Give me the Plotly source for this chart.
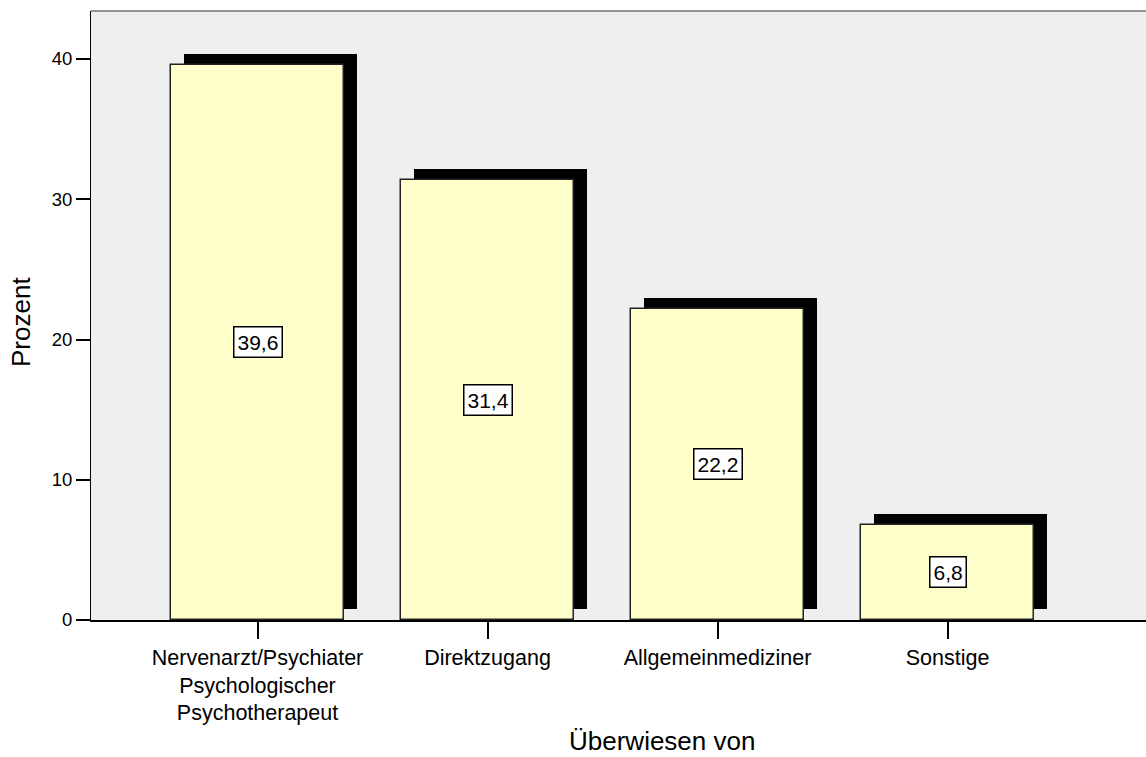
import plotly.graph_objects as go

categories = ["Nervenarzt/Psychiater<br>Psychologischer<br>Psychotherapeut",
              "Direktzugang", "Allgemeinmediziner", "Sonstige"]
values = [39.6, 31.4, 22.2, 6.8]
y_ticks = [0, 10, 20, 30, 40]

W, H = 1146, 757
L, R, T, B = 91, 0, 11, 137
plot_w = W - L - R
plot_h = H - T - B
px_per_cat = 230.0
first_center = 257.5
px_per_unit = 561.0 / 40.0

x_range = [(L - first_center) / px_per_cat, (W - R - first_center) / px_per_cat]
y_range = [0, plot_h / px_per_unit]

bar_w = 173 / px_per_cat
sdx = 13 / px_per_cat
sdy = 11 / px_per_unit

xs = list(range(len(categories)))
font = "Liberation Sans, Arial, sans-serif"

fig = go.Figure()
fig.add_trace(go.Bar(x=[x + sdx for x in xs], y=values, base=sdy, width=bar_w,
                     marker=dict(color="black", line=dict(width=0)),
                     hoverinfo="skip", showlegend=False))
fig.add_trace(go.Bar(x=xs, y=values, width=bar_w,
                     marker=dict(color="#ffffcc", line=dict(color="#222222", width=1.5)),
                     showlegend=False))

for x, v in zip(xs, values):
    fig.add_annotation(x=x, y=v / 2, xref="x", yref="y",
                       text=f"{v:.1f}".replace(".", ","), showarrow=False,
                       font=dict(family=font, size=21, color="black"),
                       bgcolor="white", bordercolor="black", borderwidth=1.5, borderpad=3)

def px_x(p):
    return (p - L) / plot_w

def px_y(p):
    return (H - B - p) / plot_h

fig.add_annotation(x=px_x(21), y=px_y(322), xref="paper", yref="paper",
                   text="Prozent", textangle=-90, showarrow=False,
                   font=dict(family=font, size=26, color="black"),
                   xanchor="center", yanchor="middle")
fig.add_annotation(x=px_x(662), y=px_y(741), xref="paper", yref="paper",
                   text="Überwiesen von", showarrow=False,
                   font=dict(family=font, size=26, color="black"),
                   xanchor="center", yanchor="middle")

fig.add_shape(type="line", xref="paper", yref="paper", x0=0, x1=1, y0=1, y1=1,
              line=dict(color="#333333", width=1))

fig.update_layout(
    width=W, height=H,
    margin=dict(l=L, r=R, t=T, b=B),
    paper_bgcolor="white", plot_bgcolor="#efefef",
    barmode="overlay", bargap=0,
    font=dict(family=font, color="black"),
    xaxis=dict(range=x_range, tickmode="array", tickvals=xs, ticktext=categories,
               ticks="outside", ticklen=17, tickwidth=1.5, tickcolor="black",
               showline=True, linecolor="black", linewidth=1.5,
               showgrid=False, zeroline=False, tickfont=dict(size=21.5)),
    yaxis=dict(range=y_range, tickmode="array", tickvals=y_ticks,
               ticks="outside", ticklen=14, tickwidth=1.5, tickcolor="black",
               showline=True, linecolor="black", linewidth=1,
               showgrid=False, zeroline=False, tickfont=dict(size=18.5)),
)

fig.write_html("out.html")
